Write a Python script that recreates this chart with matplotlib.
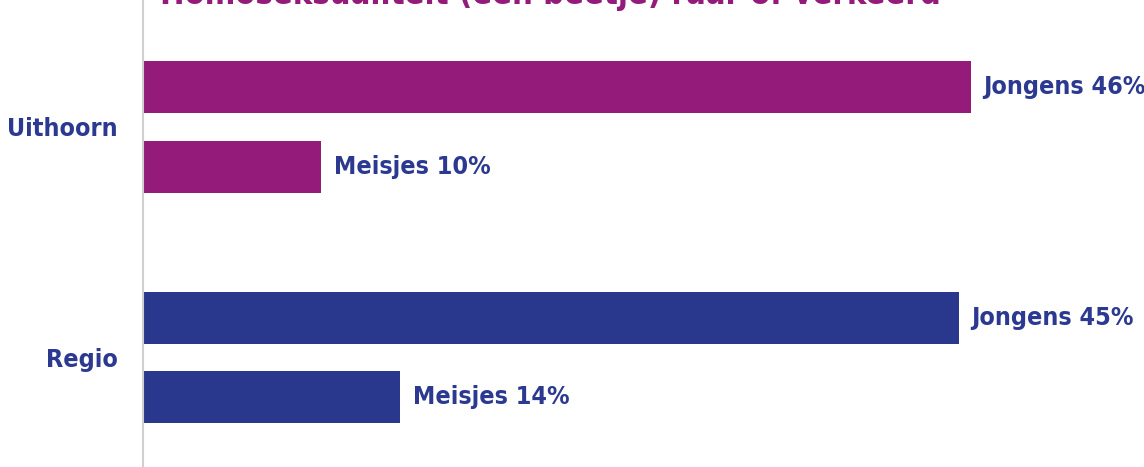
import matplotlib.pyplot as plt
import numpy as np

groups = ["Uithoorn", "Regio"]
jongens = [46.0, 45.3]
meisjes = [9.9, 14.3]
jongens_labels = ["Jongens 46%", "Jongens 45%"]
meisjes_labels = ["Meisjes 10%", "Meisjes 14%"]
bar_colors = ["#951b7b", "#29388d"]
title = "Homoseksualiteit (een beetje) raar of verkeerd"

TEXT_COLOR = "#2b3990"
FONT = dict(family="DejaVu Sans", fontweight="bold", fontstretch="condensed")


def main():
    fig = plt.figure(figsize=(11.44, 4.67), dpi=100)
    ax = fig.add_axes([143 / 1144, 0, 1 - 143 / 1144, 1])

    y = np.arange(len(groups))
    offset = 0.173
    height = 0.225

    for i, group in enumerate(groups):
        bj = ax.barh(y[i] - offset, jongens[i], height=height, color=bar_colors[i])
        bm = ax.barh(y[i] + offset, meisjes[i], height=height, color=bar_colors[i])
        ax.bar_label(bj, labels=[jongens_labels[i]], padding=9,
                     color=TEXT_COLOR, fontsize=18, **FONT)
        ax.bar_label(bm, labels=[meisjes_labels[i]], padding=9,
                     color=TEXT_COLOR, fontsize=18, **FONT)

    ax.set_xlim(0, 55.6)
    ax.set_ylim(1.474, -0.548)
    ax.set_yticks(y)
    ax.set_yticklabels(groups, color=TEXT_COLOR, fontsize=18, **FONT)
    ax.tick_params(axis="y", length=0, pad=18)
    ax.set_xticks([])
    for side in ["top", "right", "bottom"]:
        ax.spines[side].set_visible(False)
    ax.spines["left"].set_color("#d0d0d0")
    ax.spines["left"].set_linewidth(1.5)

    # title sits mostly above the canvas, as in the cropped original
    fig.text(160 / 1144, 1 - 4 / 467, title, color="#951b7b", fontsize=23.5,
             va="baseline", ha="left", **FONT)

    fig.savefig("out.png", dpi=100)
    plt.close(fig)


if __name__ == "__main__":
    main()
